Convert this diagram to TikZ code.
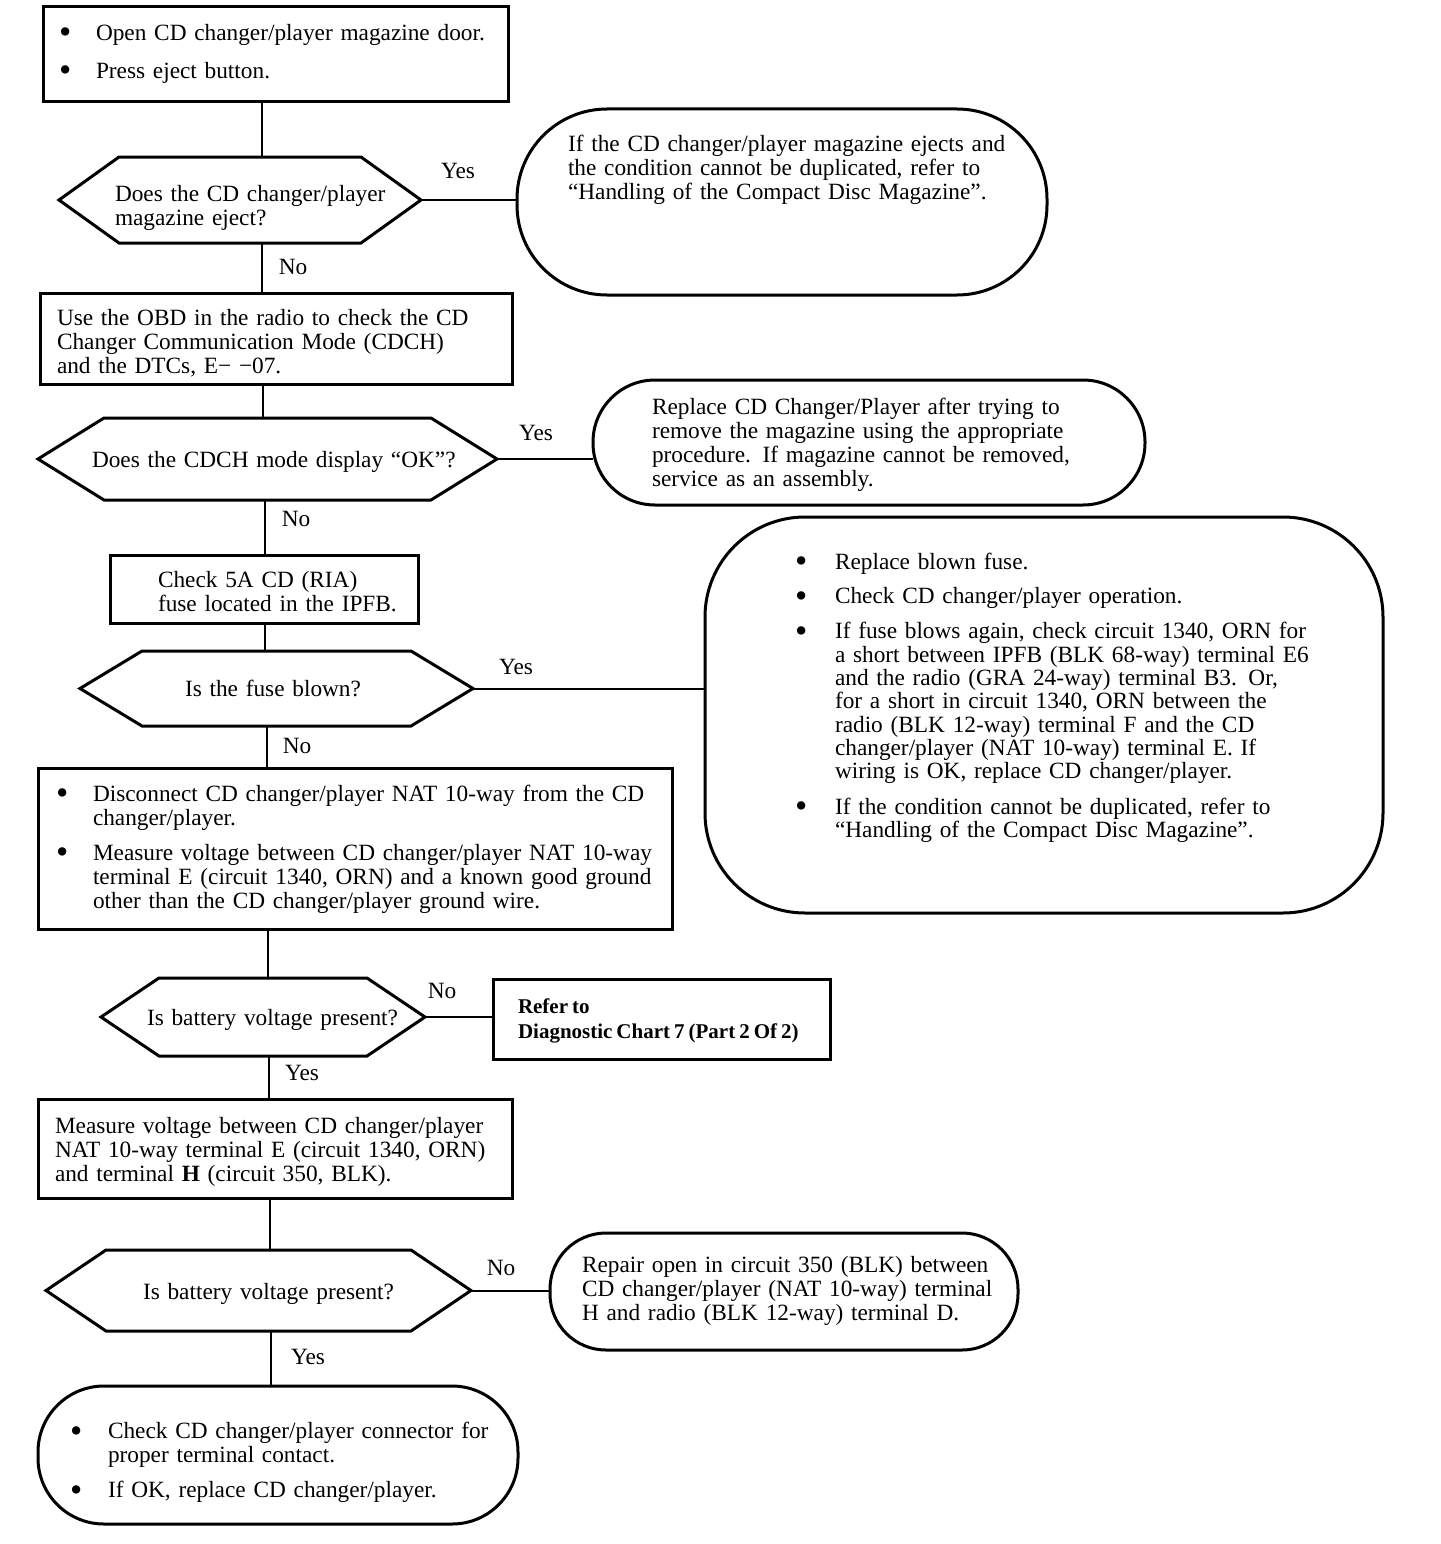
\documentclass[tikz,border=0pt]{standalone}
\usepackage{fontspec}
\setmainfont{Liberation Serif}
\setlength{\parindent}{0pt}

% text blocks: plain lines and bullet lists (optional arg: extra room above)
\newcommand{\lns}[2][0pt]{\noindent\begin{tabular}{@{}l@{}}\rule{0pt}{\dimexpr16.8pt+#1\relax}#2\end{tabular}}
\newcommand{\blist}[3][0pt]{\noindent\begin{tabular}{@{}p{#2}@{}l@{}}\rule{0pt}{\dimexpr16.8pt+#1\relax}#3\end{tabular}}
\newcommand{\bul}{\raisebox{-3.5pt}{\fontsize{35}{24}\selectfont\textbullet}}
% six-sided outline round a decision node
\newcommand{\hexa}[2]{%
  \draw[decline] (#1.west) -- ([xshift=#2]#1.north west) -- ([xshift=-#2]#1.north east)
    -- (#1.east) -- ([xshift=-#2]#1.south east) -- ([xshift=#2]#1.south west) -- cycle;}

\begin{document}
\begin{tikzpicture}[x=1pt,y=-1pt,
    every node/.style={font={\fontsize{23.3}{24}\selectfont},outer sep=0pt},
    box/.style={draw,line width=3pt,align=left,inner ysep=0pt},
    oval/.style={box,rounded corners=#1},
    decision/.style={align=left,inner ysep=0pt},
    decline/.style={line width=3pt,line join=miter},
    link/.style={line width=2pt},
    lab/.style={inner sep=0pt}
  ]
  \useasboundingbox (0,0) rectangle (1440,1544);

  \node[box,minimum height=95,inner xsep=16,text width=433] (b1) at (275.5,54.5)
    {\blist{37pt}{\bul & Open CD changer/player magazine door.\\[14pt]
                  \bul & Press eject button.}};

  \node[decision,minimum width=362,minimum height=86,inner xsep=56,text width=250] (d1) at (240,200)
    {\lns[18pt]{Does the CD changer/player\\magazine eject?}};
  \hexa{d1}{60}

  \node[oval=90pt,minimum height=186,inner xsep=51,text width=428] (o1) at (782,202)
    {\lns{If the CD changer/player magazine ejects and\\
          the condition cannot be duplicated, refer to\\
          “Handling of the Compact Disc Magazine”.\\[62pt]}};

  \node[box,minimum height=91,inner xsep=17,text width=438] (b2) at (276,338.5)
    {\lns[12pt]{Use the OBD in the radio to check the CD\\
          Changer Communication Mode (CDCH)\\
          and the DTCs, E− −07.}};

  \node[decision,minimum width=459,minimum height=82,inner xsep=54,text width=351] (d2) at (267.5,459)
    {\lns[8pt]{Does the CDCH mode display “OK”?}};
  \hexa{d2}{66}

  \node[oval=62pt,minimum height=125,inner xsep=59,text width=434] (o2) at (869,442.5)
    {\lns[6pt]{Replace CD Changer/Player after trying to\\
          remove the magazine using the appropriate\\
          procedure. If magazine cannot be removed,\\
          service as an assembly.}};

  \node[box,minimum height=68,inner xsep=48,text width=212] (b3) at (264,589)
    {\lns[12pt]{Check 5A CD (RIA)\\fuse located in the IPFB.}};

  \node[decision,minimum width=393,minimum height=75,inner xsep=105,text width=183] (d3) at (276.5,688.5)
    {\lns[6pt]{Is the fuse blown?}};
  \hexa{d3}{62}

  \node[oval=100pt,minimum height=396,inner xsep=90,text width=498] (o3) at (1044,715)
    {\renewcommand{\arraystretch}{0.97}%
     \blist{40pt}{\bul & Replace blown fuse.\\[11pt]
                  \bul & Check CD changer/player operation.\\[12pt]
                  \bul & If fuse blows again, check circuit 1340, ORN for\\
                       & a short between IPFB (BLK 68-way) terminal E6\\
                       & and the radio (GRA 24-way) terminal B3. Or,\\
                       & for a short in circuit 1340, ORN between the\\
                       & radio (BLK 12-way) terminal F and the CD\\
                       & changer/player (NAT 10-way) terminal E. If\\
                       & wiring is OK, replace CD changer/player.\\[12pt]
                  \bul & If the condition cannot be duplicated, refer to\\
                       & “Handling of the Compact Disc Magazine”.\\[33pt]}};

  \node[box,minimum height=161,inner xsep=18,text width=598] (b4) at (355,848.5)
    {\blist[3pt]{37pt}{\bul & Disconnect CD changer/player NAT 10-way from the CD\\
                            & changer/player.\\[11pt]
                       \bul & Measure voltage between CD changer/player NAT 10-way\\
                            & terminal E (circuit 1340, ORN) and a known good ground\\
                            & other than the CD changer/player ground wire.}};

  \node[decision,minimum width=324,minimum height=78,inner xsep=46,text width=232] (d4) at (263,1017)
    {\lns[8pt]{Is battery voltage present?}};
  \hexa{d4}{58}

  \node[box,minimum height=80,inner xsep=25,text width=287] (b5) at (661.5,1019)
    {\fontsize{21}{25}\selectfont\bfseries\spaceskip=4pt plus 1pt\relax
     \lns[4pt]{Refer to\\Diagnostic Chart 7 (Part 2 Of 2)}};

  \node[box,minimum height=99,inner xsep=17,text width=440] (b6) at (275,1148.5)
    {\lns[8pt]{Measure voltage between CD changer/player\\
          NAT 10-way terminal E (circuit 1340, ORN)\\
          and terminal \textbf{H} (circuit 350, BLK).}};

  \node[decision,minimum width=425,minimum height=81,inner xsep=97,text width=231] (d5) at (258.5,1290.5)
    {\lns[8pt]{Is battery voltage present?}};
  \hexa{d5}{60}

  \node[oval=56pt,minimum height=117,inner xsep=32,text width=404] (o5) at (784,1291.5)
    {\lns{Repair open in circuit 350 (BLK) between\\
          CD changer/player (NAT 10-way) terminal\\
          H and radio (BLK 12-way) terminal D.}};

  \node[oval=66pt,minimum height=138,inner xsep=32,text width=416] (o6) at (278,1455)
    {\blist[17pt]{38pt}{\bul & Check CD changer/player connector for\\
                             & proper terminal contact.\\[11pt]
                        \bul & If OK, replace CD changer/player.}};

  % main column
  \foreach \a/\b/\sx in {b1/d1/262, d1/b2/262, b2/d2/263, d2/b3/265, b3/d3/265,
                         d3/b4/267, b4/d4/268, d4/b6/269, b6/d5/270, d5/o6/271}
    \draw[link] (\a.south -| \sx,0) -- (\b.north -| \sx,0);

  % side branches
  \draw[link] (d1.east) -- (d1.east -| o1.west);
  \draw[link] (d2.east) -- (d2.east -| o2.west);
  \draw[link] (d3.east) -- (d3.east -| o3.west);
  \draw[link] (d4.east) -- (d4.east -| b5.west);
  \draw[link] (d5.east) -- (d5.east -| o5.west);

  \foreach \lname/\ltext/\lx/\ly in {y1/Yes/458/171, n1/No/293/267, y2/Yes/536/433,
                                     n2/No/296/519, y3/Yes/516/667, n3/No/297/746,
                                     n4/No/442/991, y4/Yes/302/1073, n5/No/501/1268,
                                     y5/Yes/308/1357}
    \node[lab] (\lname) at (\lx,\ly) {\ltext};
\end{tikzpicture}
\end{document}
